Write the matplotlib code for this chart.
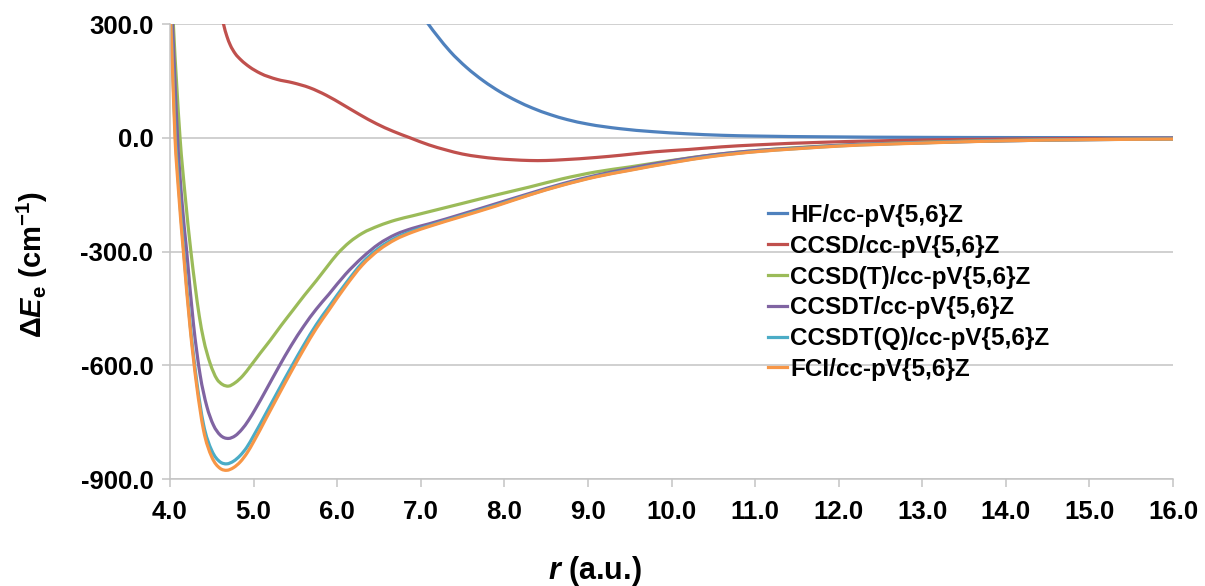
import numpy as np
import matplotlib
matplotlib.use("Agg")
import matplotlib.pyplot as plt
from matplotlib.ticker import FormatStrFormatter
from matplotlib.path import Path
from matplotlib.patches import PathPatch
from matplotlib.lines import Line2D

plt.rcParams['font.family'] = ['Liberation Sans', 'DejaVu Sans']
plt.rcParams['font.weight'] = 'bold'
plt.rcParams['axes.unicode_minus'] = False
plt.rcParams['mathtext.fontset'] = 'custom'
plt.rcParams['mathtext.rm'] = 'Liberation Sans'
plt.rcParams['mathtext.it'] = 'Liberation Sans:italic:bold'
plt.rcParams['mathtext.bf'] = 'Liberation Sans:bold'

# potential energy differences (cm^-1) vs r (a.u.)
r_hf = [6.9, 7.0, 7.09, 7.2, 7.35, 7.55, 7.75, 7.95, 8.15, 8.34, 8.55, 8.75, 9.0, 9.38,
        9.78, 10.18, 10.6, 11.0, 11.8, 13.0, 14.0, 16.0]
e_hf = [375, 330, 300, 268, 228, 185, 150, 121, 97, 78, 61, 48, 36, 24,
        16, 10.5, 6.5, 4.5, 2.5, 1, 0.5, 0]

r_ccsd = [4.5, 4.58, 4.64, 4.68, 4.72, 4.78, 4.85, 4.95, 5.08, 5.28, 5.47, 5.67, 5.87, 6.07,
          6.27, 6.47, 6.67, 6.87, 7.1, 7.3, 7.5, 7.7, 7.9, 8.1, 8.3, 8.5, 8.7, 9.1, 9.4,
          9.8, 10.2, 10.6, 11.0, 11.8, 13.0, 14.0, 15.0, 16.0]
e_ccsd = [480, 370, 300, 268, 245, 222, 205, 187, 170, 154, 145, 132, 112, 87,
          61, 37, 17, 0, -19, -32, -43, -50, -55, -58, -60, -60, -58, -52, -46,
          -37, -31, -24, -19, -12, -6, -3.5, -2, -1.5]

r_ccsd_t = [4.0, 4.04, 4.08, 4.12, 4.18, 4.25, 4.3, 4.35, 4.4, 4.48, 4.56, 4.63, 4.7, 4.78,
            4.87, 4.96, 5.08, 5.2, 5.33, 5.47, 5.61, 5.75, 5.88, 6.0, 6.15, 6.3, 6.5, 6.7,
            6.9, 7.1, 7.5, 7.9, 8.3, 8.7, 9.1, 9.5, 10.0, 10.5, 11.0, 11.5, 12.0, 13.0,
            14.0, 15.0, 16.0]
e_ccsd_t = [520, 300, 140, 0, -150, -300, -390, -470, -530, -595, -636, -651, -655, -646,
            -628, -603, -568, -534, -495, -455, -415, -377, -340, -307, -275, -252, -232, -217,
            -206, -195, -173, -151, -130, -108, -90, -77, -60, -45, -34, -26, -20, -12,
            -7, -4.5, -3]

r_ccsdt = [4.0, 4.03, 4.06, 4.09, 4.14, 4.2, 4.28, 4.36, 4.44, 4.52, 4.6, 4.7, 4.78, 4.86,
           4.94, 5.02, 5.15, 5.3, 5.45, 5.6, 5.75, 5.9, 6.1, 6.3, 6.5, 6.7, 6.9, 7.1, 7.5,
           7.9, 8.3, 8.7, 9.1, 9.5, 10.0, 10.5, 11.0, 11.5, 12.0, 13.0, 14.0, 15.0, 16.0]
e_ccsdt = [450, 300, 145, 0, -160, -300, -490, -625, -708, -758, -784, -793, -786, -769,
           -745, -716, -665, -605, -548, -497, -452, -413, -360, -316, -280, -255, -239, -227, -201,
           -174, -147, -121, -99, -81, -61, -45, -34, -27, -20, -13, -8, -5, -3]

r_fci = [4.0, 4.03, 4.06, 4.1, 4.16, 4.24, 4.32, 4.4, 4.5, 4.6, 4.68, 4.76, 4.84, 4.92,
         5.0, 5.15, 5.3, 5.45, 5.6, 5.75, 5.9, 6.1, 6.3, 6.5, 6.7, 6.9, 7.1, 7.5, 7.9,
         8.3, 8.7, 9.1, 9.5, 10.0, 10.5, 11.0, 11.5, 12.0, 13.0, 14.0, 15.0, 16.0]
e_ccsdt_q = [380, 200, 25, -115, -285, -490, -643, -755, -825, -855, -860, -853, -838, -816,
             -786, -726, -665, -605, -547, -493, -446, -385, -330, -291, -264, -246, -232, -205, -178,
             -150, -124, -102, -85, -65, -48, -36.5, -28.5, -21.5, -13.5, -8, -5, -3.5]
e_fci = [360, 180, 0, -135, -300, -500, -655, -770, -842, -872, -877, -870, -855, -832,
         -802, -740, -678, -617, -558, -503, -455, -392, -336, -296, -268, -249, -234, -207, -180,
         -151, -125, -103, -86, -66, -49, -37, -29, -22, -14, -8, -5, -3.5]

series = [
    ("HF/cc-pV{5,6}Z", r_hf, e_hf, "#4F81BD"),
    ("CCSD/cc-pV{5,6}Z", r_ccsd, e_ccsd, "#C0504D"),
    ("CCSD(T)/cc-pV{5,6}Z", r_ccsd_t, e_ccsd_t, "#9BBB59"),
    ("CCSDT/cc-pV{5,6}Z", r_ccsdt, e_ccsdt, "#8064A2"),
    ("CCSDT(Q)/cc-pV{5,6}Z", r_fci, e_ccsdt_q, "#4BACC6"),
    ("FCI/cc-pV{5,6}Z", r_fci, e_fci, "#F79646"),
]


def smooth_path(x, y):
    # cubic Bezier through the points, tangents from neighbouring slopes
    x = np.asarray(x, float)
    y = np.asarray(y, float)
    m = np.gradient(y, x)
    verts = [(x[0], y[0])]
    codes = [Path.MOVETO]
    for i in range(len(x) - 1):
        h = x[i + 1] - x[i]
        verts += [(x[i] + h / 3, y[i] + m[i] * h / 3),
                  (x[i + 1] - h / 3, y[i + 1] - m[i + 1] * h / 3),
                  (x[i + 1], y[i + 1])]
        codes += [Path.CURVE4] * 3
    return Path(verts, codes)


fig = plt.figure(figsize=(12.05, 5.86), dpi=100)
ax = fig.add_axes([170 / 1205, 1 - 479 / 586, 1003 / 1205, 455 / 586])

handles = []
for label, r, e, c in series:
    ax.add_patch(PathPatch(smooth_path(r, e), fill=False, edgecolor=c, lw=2.3,
                           capstyle='round', joinstyle='round'))
    handles.append(Line2D([], [], color=c, lw=2.3, label=label))

ax.set_xlim(4.0, 16.0)
ax.set_ylim(-900, 300)
ax.set_xticks(np.arange(4, 17, 1))
ax.set_yticks(np.arange(-900, 301, 300))
ax.xaxis.set_major_formatter(FormatStrFormatter('%.1f'))
ax.yaxis.set_major_formatter(FormatStrFormatter('%.1f'))

grey = '#c4c4c4'
ax.grid(axis='y', color=grey, lw=1.1)
ax.set_axisbelow(True)
for s in ['top', 'right']:
    ax.spines[s].set_visible(False)
for s in ['left', 'bottom']:
    ax.spines[s].set_color(grey)
    ax.spines[s].set_linewidth(1.1)
ax.tick_params(axis='both', colors=grey, length=6, width=1.1, labelcolor='black',
               labelsize=18.5)
ax.tick_params(axis='x', pad=9)
ax.tick_params(axis='y', pad=6)
for t in ax.get_xticklabels() + ax.get_yticklabels():
    t.set_fontweight('bold')

fig.text(32 / 1205, 1 - 265 / 586, r'$\Delta\mathit{E}_{\mathbf{e}}$ (cm$^{\mathbf{-1}}$)',
         rotation=90, ha='center', va='center', fontsize=21, fontweight='bold')
fig.text(595 / 1205, 1 - 579 / 586, r'$\mathit{r}$ (a.u.)', ha='center', va='baseline',
         fontsize=22, fontweight='bold')

ax.legend(handles=handles, loc='upper left', bbox_to_anchor=(768 / 1205, 1 - 204 / 586),
          bbox_transform=fig.transFigure, frameon=False, borderpad=0, borderaxespad=0,
          handlelength=0.8, handletextpad=0.1, labelspacing=0.32,
          prop={'size': 17.5, 'weight': 'bold'})

fig.savefig('out.png', dpi=100)
